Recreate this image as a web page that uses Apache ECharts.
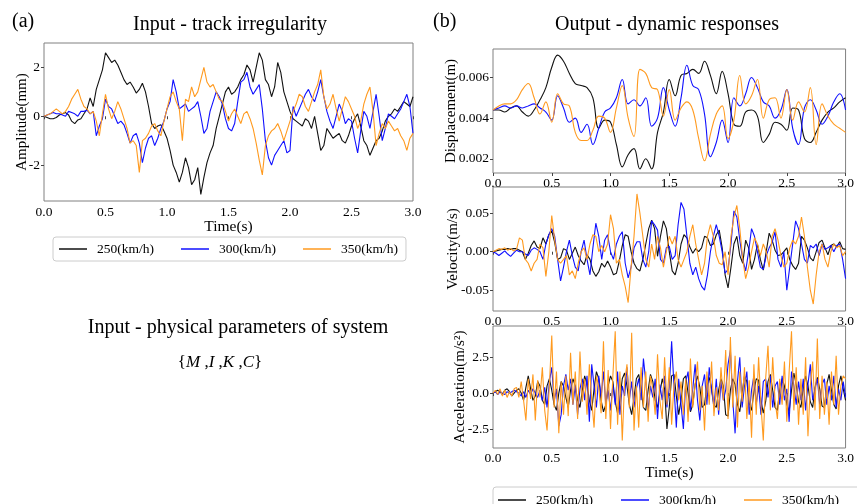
<!DOCTYPE html>
<html>
<head>
<meta charset="utf-8">
<script src="https://cdn.jsdelivr.net/npm/echarts@6/dist/echarts.min.js"></script>
<style>
  html, body { margin: 0; padding: 0; background: #fff; }
  #chart { width: 857px; height: 504px; }
</style>
</head>
<body>
<div id="chart"></div>
<script>
// legend names and colours
const speeds = ['250(km/h)', '300(km/h)', '350(km/h)']
const colors = ['#111111', '#1010ff', '#ff9a1f']

// (a) track irregularity, mm, sampled every 0.025 s
const trackDt = 0.025
const track250 = [
  0, -0.05, -0.1, -0.1, -0.05, 0.05, 0.1, 0.15, 0.05, -0.2,
  -0.3, -0.15, -0.1, 0.1, 0.3, 0.75, 0.4, 1.1, 1.5, 1.9,
  2.6, 2.4, 2.2, 2.3, 2.1, 1.8, 1.5, 1.3, 1.4, 1.2,
  0.95, 1.1, 1.35, 1.0, 0.4, -0.3, -0.5, -0.4, -0.35, -0.6,
  -0.9, -1.4, -2.0, -2.3, -2.7, -2.3, -1.7, -2.1, -2.8, -2.6,
  -2.1, -3.2, -2.5, -1.9, -1.5, -1.2, -0.5, 0.0, 0.5, 1.0,
  1.2, 0.9, 1.0, 1.2, 1.5, 1.7, 2.1, 1.9, 1.4, 2.0,
  2.6, 2.3, 1.5, 1.3, 0.8, 1.2, 2.2, 1.8, 1.0, 0.6,
  0.2, -0.1, -0.2, -0.3, -0.4, -0.1, -0.2, -0.5, 0.0, -0.7,
  -1.4, -1.2, -0.5, -0.7, -0.9, -0.8, -0.7, -1.0, -1.1, -0.8,
  -0.4, -0.1, 0.1, -0.4, -1.0, -1.2, -1.6, -1.3, -1.0, -0.9,
  -0.6, -0.2, 0.0, 0.1, 0.3, 0.2, 0.4, 0.6, 0.5, 0.4,
  0.8
]
const track300 = [
  0, 0.05, 0.1, 0.15, 0.1, 0.1, 0.05, 0.0, 0.2, 0.15,
  0.1, 0.0, 0.2, 0.2, 0.25, 0.1, 0.2, -0.8, -0.4, -0.1,
  0.7, 0.4, 0.3, 0.0, -0.3, -0.2, -0.35, -0.7, -1.1, -0.8,
  -0.7, -1.1, -1.9, -1.3, -0.9, -0.8, -1.2, -0.9, -0.5, -0.2,
  0.3, 0.6, 1.5, 1.0, 0.3, 0.4, 0.5, 0.2, 0.3, 0.4,
  0.6, 0.0, -0.7, -0.5, 0.2, 0.6, 1.0, 0.8, 0.5, -0.1,
  -0.5, -0.6, -0.3, 0.6, 1.4, 1.5, 1.8, 1.2, 0.9, 1.1,
  1.3, 0.3, -1.0, -1.7, -2.0, -1.6, -1.4, -1.2, -1.0, -1.5,
  -1.4, 0.4, 0.0, 0.3, 0.6, 0.9, 1.1, 0.8, 0.6, 1.0,
  1.5, 0.8, 0.2, -0.2, -0.5, 0.0, 0.5, 0.2, -0.3, -0.1,
  -0.2, -0.9, -1.5, -0.6, 0.2, 0.0, -0.5, 0.2, 0.9, 0.0,
  -1.0, -0.5, 0.1, 0.0, -0.1, 0.1, 0.3, 0.6, 0.9, 0.4,
  -0.7
]
const track350 = [
  0, 0.05, 0.1, 0.2, 0.3, 0.2, 0.1, 0.2, 0.4, 0.7,
  0.9, 1.1, 0.7, 0.4, 0.3, 0.1, 0.2, -0.2, -0.8, 0.1,
  0.9, 0.3, -0.1, 0.2, 0.6, 0.3, -0.1, -0.5, -1.1, -1.0,
  -1.2, -2.3, -1.0, -0.9, -0.7, -0.4, -0.3, -0.6, -0.8, -0.2,
  0.3, 0.8, 1.0, 0.6, 0.3, -1.0, 0.7, 0.6, 1.2, 0.8,
  1.0, 1.5, 2.0, 1.4, 1.2, 1.3, 1.0, 0.7, 0.6, 0.2,
  -0.2, 0.1, 0.3, 0.0, -0.3, 0.1, 0.2, -0.1, -0.5, -1.1,
  -1.8, -2.4, -1.2, -0.8, -0.6, -0.5, -0.3, -0.6, -1.0, -0.6,
  -0.2, 0.2, 0.5, 0.9, 0.8, 0.4, 0.2, 0.6, 1.0, 1.3,
  1.9, 0.8, 0.3, 0.5, 0.9, 0.3, -0.2, 0.3, 0.8, 0.6,
  0.3, 0.0, -0.5, -0.2, 0.5, 0.9, 1.2, 0.2, -1.2, -0.7,
  -0.3, -0.5, -0.2, -0.4, -0.6, -0.5, -0.8, -1.0, -1.4, -0.9,
  -0.7
]

// (b) displacement, m, every 0.05 s
const dispDt = 0.05
const disp250 = [
  0.0044, 0.0044, 0.0043, 0.0045, 0.0046, 0.0043, 0.0041, 0.0044, 0.0049, 0.0055,
  0.0065, 0.0071, 0.0068, 0.0062, 0.0057, 0.0056, 0.0055, 0.0050, 0.0035, 0.0039,
  0.0038, 0.0027, 0.0016, 0.0022, 0.0025, 0.0015, 0.0020, 0.0015, 0.0033, 0.0043,
  0.0059, 0.0051, 0.0061, 0.0062, 0.0064, 0.0062, 0.0068, 0.0061, 0.0052, 0.0063,
  0.0052, 0.0037, 0.0036, 0.0043, 0.0044, 0.0041, 0.0028, 0.0032, 0.0038, 0.0037,
  0.0034, 0.0045, 0.0044, 0.0030, 0.0028, 0.0033, 0.0039, 0.0043, 0.0045, 0.0048,
  0.0050
]
const disp300 = [
  0.0044, 0.0045, 0.0046, 0.0045, 0.0046, 0.0045, 0.0046, 0.0047, 0.0045, 0.0043,
  0.0039, 0.0051, 0.0045, 0.0038, 0.0040, 0.0033, 0.0037, 0.0027, 0.0035, 0.0043,
  0.0045, 0.0050, 0.0059, 0.0047, 0.0049, 0.0046, 0.0050, 0.0036, 0.0040, 0.0055,
  0.0044, 0.0036, 0.0050, 0.0066, 0.0056, 0.0054, 0.0042, 0.0021, 0.0028, 0.0039,
  0.0028, 0.0050, 0.0046, 0.0052, 0.0060, 0.0055, 0.0048, 0.0046, 0.0040, 0.0044,
  0.0054, 0.0035, 0.0027, 0.0045, 0.0049, 0.0044, 0.0037, 0.0041, 0.0048, 0.0052,
  0.0044
]
const disp350 = [
  0.0044, 0.0046, 0.0047, 0.0047, 0.0049, 0.0054, 0.0057, 0.0050, 0.0042, 0.0048,
  0.0038, 0.0052, 0.0047, 0.0046, 0.0033, 0.0029, 0.0029, 0.0034, 0.0041, 0.0040,
  0.0033, 0.0045, 0.0056, 0.0040, 0.0031, 0.0064, 0.0062, 0.0055, 0.0054, 0.0041,
  0.0054, 0.0039, 0.0045, 0.0048, 0.0044, 0.0030, 0.0019, 0.0032, 0.0042, 0.0046,
  0.0030, 0.0039, 0.0061, 0.0047, 0.0051, 0.0059, 0.0040, 0.0049, 0.0050, 0.0040,
  0.0054, 0.0039, 0.0048, 0.0043, 0.0055, 0.0027, 0.0047, 0.0041, 0.0037, 0.0035,
  0.0033
]

// velocity, m/s, every 0.025 s
const velDt = 0.025
const vel250 = [
  0, 0.001, 0.002, 0.003, 0.003, 0.004, 0.003, 0.004, 0.004, 0.002,
  0.0, -0.01, -0.002, 0.008, 0.014, 0.006, 0.004, 0.018, 0.01, 0.022,
  0.027, 0.012, -0.01, -0.008, 0.004, 0.002, -0.01, -0.002, 0.006, -0.005,
  -0.012, -0.017, -0.004, -0.01, -0.025, -0.032, -0.026, -0.015, -0.02, -0.012,
  -0.02, -0.03, -0.028, -0.012, 0.008, 0.022, 0.02, 0.0, -0.015, -0.022,
  -0.025, -0.01, 0.01, 0.03, 0.041, 0.03, -0.006, 0.02, 0.04, 0.03,
  0.0, -0.025, -0.03, -0.015, 0.01, 0.022, 0.018, 0.006, -0.002, 0.004,
  0.0, 0.005, 0.02, 0.018, 0.008, 0.01, 0.022, 0.028, 0.005, -0.03,
  -0.047, -0.02, 0.01, 0.02, -0.005, -0.015, 0.015, 0.005, -0.023, -0.01,
  0.01, -0.01, -0.024, 0.0, 0.024, 0.015, 0.002, -0.005, -0.004, 0.0,
  0.005, -0.01, -0.018, -0.023, -0.015, 0.02, 0.015, 0.005, -0.008, -0.012,
  0.0, 0.012, 0.015, 0.005, -0.004, 0.008, 0.01, 0.006, 0.013, 0.004,
  0.003
]
const vel300 = [
  0, -0.002, -0.005, -0.002, 0.001, -0.003, -0.006, -0.002, 0.002, 0.0,
  0.0, -0.003, -0.005, 0.002, 0.005, 0.003, 0.0, -0.01, 0.01, 0.022,
  0.03, 0.02, -0.01, -0.038, -0.02, 0.0, 0.015, -0.005, -0.02, -0.025,
  0.0, 0.015, -0.01, -0.03, 0.005, 0.037, 0.02, -0.01, 0.015, 0.022,
  0.0, -0.01, 0.01, 0.02, 0.026, -0.015, -0.034, -0.02, 0.005, 0.013,
  0.013, -0.01, -0.02, 0.0, 0.04, 0.035, 0.028, -0.01, -0.015, 0.005,
  0.007, -0.01, -0.005, 0.035, 0.064, 0.055, 0.02, -0.015, -0.03, -0.02,
  -0.035, -0.045, -0.05, -0.03, 0.0, 0.02, 0.035, 0.02, 0.0, -0.028,
  -0.023, 0.01, 0.053, 0.045, 0.015, -0.01, -0.025, 0.0, 0.03, 0.02,
  0.0, -0.02, -0.023, -0.005, 0.005, 0.012, 0.026, -0.01, -0.02, 0.0,
  -0.05, -0.02, 0.01, 0.04, 0.03, 0.01, -0.01, -0.015, 0.008, 0.005,
  0.01, -0.005, 0.01, 0.003, 0.005, 0.008, 0.0, 0.008, 0.01, -0.01,
  -0.035
]
const vel350 = [
  0, 0.002, 0.004, 0.003, 0.005, 0.002, 0.004, 0.001, 0.003, 0.018,
  0.015, -0.01, -0.015, -0.025, -0.015, -0.01, 0.01, 0.005, -0.032, 0.0,
  0.047, 0.015, -0.01, -0.015, -0.01, -0.005, -0.03, -0.025, -0.035, -0.015,
  0.0, 0.005, -0.01, 0.01, 0.022, 0.02, 0.0, 0.008, 0.0, 0.01,
  0.048, 0.03, -0.015, -0.01, -0.03, -0.045, -0.066, -0.02, 0.02, 0.075,
  0.05, 0.02, -0.01, -0.02, 0.01, -0.01, 0.02, 0.005, -0.02, 0.0,
  0.02, 0.01, 0.02, -0.01, -0.02, -0.01, 0.0, 0.02, 0.035, 0.01,
  -0.01, -0.03, -0.015, 0.02, 0.035, 0.02, -0.005, -0.015, -0.017, 0.0,
  -0.03, 0.02, 0.045, 0.06, 0.03, -0.01, -0.035, -0.02, 0.0, 0.018,
  0.01, -0.005, 0.01, 0.0, -0.02, 0.02, 0.03, 0.015, -0.005, -0.02,
  -0.015, 0.005, 0.015, 0.01, 0.02, 0.045, 0.02, -0.02, -0.05, -0.068,
  -0.03, 0.0, 0.01, -0.01, -0.02, 0.0, 0.01, 0.005, 0.008, -0.005,
  0.0
]

// acceleration, m/s^2, every 0.02 s
const accDt = 0.02
const acc250 = [
  0, 0.1, 0.2, 0.1, -0.1, 0.2, 0.3, 0.1, -0.2, 0.0, 0.2,
  0.3, 0.0, -0.5, 0.4, 1.2, 0.3, -0.5, -0.2, 0.8, 0.5,
  -0.5, -0.8, 0.5, 1.0, 0.2, -0.8, -1.2, 0.0, 0.8, 0.5,
  -0.3, -1.0, 0.2, 1.0, 0.5, -0.5, -1.0, 0.2, 1.2, 0.6,
  -0.5, -1.2, 0.3, 1.5, 1.0, -0.5, -1.3, -0.8, 0.5, 1.2,
  0.8, -0.6, -1.4, -0.5, 1.0, 1.4, 0.5, -0.8, -1.5, -0.3,
  1.0, 1.3, 0.3, -1.0, -1.2, 0.2, 1.3, 0.8, -0.5, -1.0,
  0.0, 1.0, 0.3, -2.5, -1.0, 1.2, 1.3, -0.2, -1.5, -0.5,
  1.0, 1.2, 0.0, -1.3, -0.8, 0.6, 1.2, 0.4, -1.0, -0.8,
  0.5, 1.1, 0.3, -0.8, -1.0, 0.2, 1.0, 0.5, -1.5, -1.6,
  0.2, 1.0, 0.6, -0.8, -1.3, 0.0, 1.2, 0.8, -0.7, -1.2,
  0.1, 1.0, 0.9, -0.5, -1.4, -0.6, 0.8, 1.3, 0.2, -1.0,
  -1.2, 0.3, 1.0, 0.5, -0.8, -1.3, 0.2, 1.4, 0.6, -0.6,
  -1.0, 0.3, 1.2, 0.5, -0.6, -1.0, 0.4, 1.1, 0.3, -0.9,
  -1.0, 0.6, 1.3, 0.2, -0.8, -1.1, 0.5, 1.2, 0.3, -0.5
]
const acc300 = [
  0, 0.1, -0.1, 0.1, 0.0, -0.1, 0.1, 0.0, 0.1, 0.2, 0.1,
  0.0, -0.2, 0.1, -0.3, 0.2, -0.1, 0.3, 0.0, -0.3, 0.2,
  -0.5, 0.4, -1.0, 0.8, 1.8, -0.6, 0.3, -2.3, -1.5, 0.5,
  1.3, 0.2, 1.0, -0.8, 0.5, -1.5, 0.3, 1.0, -0.5, 1.2,
  -2.0, 2.0, 0.5, -1.0, 1.2, -0.3, 1.5, -0.8, 0.2, -1.2,
  0.6, -0.8, 1.5, -1.5, 0.5, -0.2, 1.8, -0.5, 0.8, -1.0,
  0.3, 1.0, -0.5, 2.4, 0.8, -1.2, 0.5, -0.3, 1.0, -1.8,
  0.6, -0.5, 1.2, -1.0, 0.4, 3.6, 0.5, -2.4, 1.0, -0.8,
  -2.5, 0.8, 1.5, -1.2, 0.3, 2.0, -0.5, -1.9, 0.5, 1.3,
  -0.8, 1.8, 0.2, -1.0, 1.0, -1.5, 0.8, -0.5, 0.2, 2.0,
  3.0, -0.5, -2.8, 0.8, 2.5, -1.0, 0.5, 1.5, -1.5, 0.2,
  1.2, -0.8, 0.5, -1.5, 0.8, 1.0, -0.3, 1.2, -1.0, 0.5,
  0.8, -0.8, 1.2, -0.5, 0.3, -2.0, 1.5, 0.5, -0.8, 0.8,
  -0.5, 1.0, -1.2, 0.6, 2.0, -0.5, 0.3, 1.0, -0.8, 0.6,
  1.0, -0.8, 0.5, -0.5, 1.2, -1.0, 0.3, -0.5, 0.8, -0.3
]
const acc350 = [
  0, 0.2, -0.1, 0.3, -0.2, 0.2, -0.3, 0.1, -0.2, 0.3, 0.4,
  -0.3, 0.8, -0.5, -1.9, 1.0, -0.4, 1.3, -1.9, 0.9, -0.3,
  1.8, -1.2, -2.6, 0.6, 4.0, -1.0, 1.5, -2.8, 0.8, -1.5,
  1.2, -1.6, 2.8, -0.8, 1.5, -1.8, 2.9, -0.6, 1.0, -1.5,
  2.0, -0.5, -2.4, 1.2, 0.4, -1.4, 3.6, -1.8, 1.6, -2.5,
  1.2, 4.3, -2.2, 1.5, -3.3, 0.8, 2.0, -1.0, 4.2, -2.6,
  0.5, -2.4, 1.8, -1.0, 1.5, -2.0, 1.2, 0.3, -1.5, 2.7,
  -0.5, -1.8, 2.5, -0.8, 1.8, -2.2, 0.6, 1.5, -0.5, 0.8,
  -1.5, 1.0, -2.0, 2.4, -1.0, 0.6, 2.2, -1.2, 0.5, -2.6,
  1.5, -0.8, 2.2, -1.6, 0.4, -1.2, 1.8, -0.5, 3.0, -1.8,
  3.9, -1.0, 2.6, -2.4, 1.5, -0.6, 1.8, -1.8, 0.9, -3.1,
  2.0, -1.5, 2.5, -0.8, -3.3, 1.0, 3.3, -1.2, 2.5, -0.5,
  -1.8, 1.0, -0.8, 2.2, -2.0, 1.5, 4.3, -1.2, 1.8, -2.2,
  1.0, -1.5, 2.5, -3.0, 0.5, 2.2, -1.2, 3.8, -1.8, 1.2,
  -1.5, 0.8, -2.2, 1.5, -0.8, 2.6, -1.5, 0.5, 1.2, 1.0
]

const FONT = '"Liberation Serif", "Times New Roman", serif'
const FRAME = '#808080'

function pairs(values, dt) {
  return values.map((v, i) => [Math.round(i * dt * 1000) / 1000, v])
}

const grids = [
  { left: 44, top: 43, width: 369, height: 158 },
  { left: 493, top: 49, width: 355, height: 124 },
  { left: 493, top: 187, width: 355, height: 124 },
  { left: 493, top: 326, width: 355, height: 122 },
]

function xAxis(gridIndex, nameGap, margin) {
  return {
    type: 'value',
    gridIndex,
    min: 0,
    max: 3,
    interval: 0.5,
    name: nameGap ? 'Time(s)' : '',
    nameLocation: 'middle',
    nameGap: nameGap || 20,
    nameMoveOverlap: false,
    nameTextStyle: { fontFamily: FONT, fontSize: 15.5, color: '#000', verticalAlign: 'top' },
    axisLine: { show: false },
    axisTick: { show: true, length: 3, lineStyle: { color: '#444' } },
    axisLabel: {
      margin,
      fontFamily: FONT,
      fontSize: 13.5,
      color: '#000',
      formatter: (v) => v.toFixed(1),
    },
    splitLine: { show: false },
  }
}

function yAxis(gridIndex, min, max, ticks, name, gap, digits) {
  return {
    type: 'value',
    gridIndex,
    min,
    max,
    name,
    nameLocation: 'middle',
    nameRotate: 90,
    nameGap: gap,
    nameMoveOverlap: false,
    nameTextStyle: { fontFamily: FONT, fontSize: 15, color: '#000' },
    axisLine: { show: false },
    axisTick: { show: true, length: 3, customValues: ticks, lineStyle: { color: '#444' } },
    axisLabel: {
      margin: 4,
      customValues: ticks,
      fontFamily: FONT,
      fontSize: 13.5,
      color: '#000',
      formatter: (v) => v.toFixed(digits),
    },
    splitLine: { show: false },
  }
}

const panels = [
  { sets: [track250, track300, track350], dt: trackDt, smooth: false },
  { sets: [disp250, disp300, disp350], dt: dispDt, smooth: 0.4 },
  { sets: [vel250, vel300, vel350], dt: velDt, smooth: false },
  { sets: [acc250, acc300, acc350], dt: accDt, smooth: false },
]

const series = []
panels.forEach((p, gi) => {
  p.sets.forEach((values, k) => {
    series.push({
      type: 'line',
      name: speeds[k],
      xAxisIndex: gi,
      yAxisIndex: gi,
      data: pairs(values, p.dt),
      showSymbol: false,
      symbol: 'none',
      smooth: p.smooth,
      silent: true,
      lineStyle: { color: colors[k], width: 1.1 },
      itemStyle: { color: colors[k] },
    })
  })
})

const legendBase = {
  orient: 'horizontal',
  icon: 'rect',
  itemWidth: 28,
  itemHeight: 1.5,
  borderColor: '#cccccc',
  borderWidth: 1,
  borderRadius: 3,
  selectedMode: false,
  textStyle: { fontFamily: FONT, fontSize: 13.5, color: '#000', padding: [0, 0, 0, 5] },
  data: speeds,
}

const chart = echarts.init(document.getElementById('chart'))
chart.setOption({
  animation: false,
  backgroundColor: '#fff',
  grid: grids.map((g) => ({ ...g, show: true, borderColor: FRAME, borderWidth: 1, backgroundColor: 'transparent' })),
  xAxis: [
    xAxis(0, 18, 4),
    xAxis(1, 0, 3),
    xAxis(2, 0, 3),
    xAxis(3, 17, 3),
  ],
  yAxis: [
    yAxis(0, -3.47, 3.0, [-2, 0, 2], 'Amplitude(mm)', 14, 0),
    yAxis(1, 0.0013, 0.0074, [0.002, 0.004, 0.006], 'Displacement(m)', 34, 3),
    yAxis(2, -0.077, 0.084, [-0.05, 0, 0.05], 'Velocity(m/s)', 32, 2),
    yAxis(3, -3.82, 4.67, [-2.5, 0, 2.5], 'Acceleration(m/s²)', 25, 1),
  ],
  legend: [
    { ...legendBase, left: 53, top: 237, itemGap: 27, padding: [5, 8, 5, 6] },
    { ...legendBase, left: 493, top: 487, width: 520, itemGap: 28, padding: [6, 60, 14, 5] },
  ],
  graphic: [
    { type: 'text', left: 12, top: 12, style: { text: '(a)', font: '20px ' + FONT, fill: '#000' } },
    { type: 'text', x: 230, y: 25, style: { text: 'Input - track irregularity', font: '20px ' + FONT, fill: '#000', textAlign: 'center', textVerticalAlign: 'middle' } },
    { type: 'text', left: 433, top: 12, style: { text: '(b)', font: '20px ' + FONT, fill: '#000' } },
    { type: 'text', x: 667, y: 25, style: { text: 'Output - dynamic responses', font: '20px ' + FONT, fill: '#000', textAlign: 'center', textVerticalAlign: 'middle' } },
    { type: 'text', x: 238, y: 328, style: { text: 'Input - physical parameters of system', font: '20px ' + FONT, fill: '#000', textAlign: 'center', textVerticalAlign: 'middle' } },
    {
      type: 'text', x: 220, y: 363,
      style: {
        text: '{{i|M} ,{i|I} ,{i|K} ,{i|C}}',
        font: '17px ' + FONT,
        fill: '#000',
        textAlign: 'center',
        textVerticalAlign: 'middle',
        rich: { i: { fontFamily: FONT, fontSize: 17, fontStyle: 'italic', fill: '#000' } },
      },
    },
  ],
  series,
})
</script>
</body>
</html>
